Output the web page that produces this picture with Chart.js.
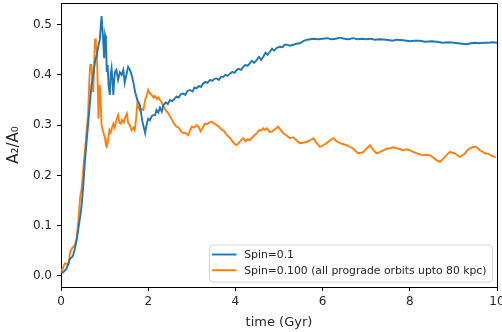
<!DOCTYPE html>
<html>
<head>
<meta charset="utf-8">
<script src="https://cdn.jsdelivr.net/npm/chart.js@4"></script>
<style>
  html, body { margin: 0; padding: 0; background: #fff; }
  #wrap { width: 502px; height: 332px; position: relative; }
</style>
</head>
<body>
<div id="wrap"><canvas id="barChart"></canvas></div>
<script>
'use strict';

// time (Gyr) and A2/A0
const blueTime = [0.00,0.05,0.10,0.13,0.17,0.21,0.25,0.28,0.32,0.36,0.40,0.44,0.47,0.51,0.55,0.58,0.62,0.66,0.70,0.74,0.78,0.82,0.86,0.89,0.93,0.96,0.99,1.01,1.03,1.05,1.07,1.09,1.12,1.14,1.16,1.18,1.20,1.22,1.24,1.27,1.31,1.35,1.39,1.43,1.46,1.50,1.54,1.58,1.62,1.66,1.70,1.75,1.81,1.86,1.90,1.93,1.96,2.00,2.04,2.08,2.12,2.16,2.19,2.23,2.27,2.31,2.35,2.40,2.45,2.50,2.55,2.60,2.65,2.70,2.75,2.80,2.85,2.90,2.96,3.02,3.06,3.11,3.16,3.21,3.26,3.31,3.36,3.42,3.47,3.52,3.57,3.62,3.67,3.72,3.77,3.82,3.88,3.93,3.98,4.03,4.08,4.13,4.18,4.23,4.28,4.33,4.38,4.43,4.49,4.54,4.59,4.64,4.69,4.74,4.79,4.84,4.89,4.95,5.02,5.08,5.13,5.18,5.25,5.33,5.40,5.48,5.56,5.64,5.72,5.79,5.90,6.00,6.10,6.20,6.30,6.40,6.50,6.60,6.70,6.80,6.90,7.00,7.09,7.20,7.30,7.47,7.60,7.70,7.85,8.00,8.10,8.23,8.35,8.50,8.62,8.75,8.90,9.00,9.10,9.20,9.31,9.40,9.50,9.60,9.70,9.80,9.90,10.0];
const blueA2 = [0.008,0.007,0.012,0.015,0.025,0.035,0.037,0.042,0.055,0.072,0.095,0.118,0.138,0.178,0.230,0.260,0.300,0.340,0.380,0.400,0.426,0.440,0.459,0.470,0.517,0.480,0.433,0.479,0.470,0.406,0.420,0.380,0.360,0.400,0.413,0.390,0.360,0.390,0.406,0.410,0.390,0.405,0.400,0.410,0.384,0.400,0.416,0.410,0.400,0.385,0.366,0.350,0.340,0.310,0.295,0.284,0.300,0.313,0.310,0.318,0.320,0.320,0.330,0.325,0.335,0.327,0.340,0.345,0.342,0.350,0.348,0.352,0.357,0.355,0.362,0.363,0.360,0.368,0.370,0.367,0.375,0.373,0.378,0.376,0.383,0.386,0.384,0.390,0.388,0.392,0.393,0.390,0.396,0.396,0.400,0.398,0.403,0.406,0.404,0.410,0.412,0.410,0.416,0.420,0.418,0.423,0.428,0.424,0.430,0.436,0.430,0.436,0.444,0.440,0.446,0.452,0.448,0.454,0.456,0.455,0.460,0.460,0.458,0.460,0.462,0.463,0.467,0.470,0.471,0.472,0.471,0.472,0.473,0.471,0.472,0.474,0.472,0.471,0.473,0.471,0.472,0.471,0.472,0.470,0.471,0.470,0.468,0.470,0.469,0.467,0.468,0.468,0.466,0.467,0.466,0.464,0.465,0.464,0.463,0.462,0.461,0.463,0.464,0.463,0.464,0.464,0.465,0.464];

const orangeTime = [0.00,0.03,0.06,0.09,0.13,0.17,0.21,0.25,0.28,0.32,0.36,0.40,0.44,0.47,0.51,0.55,0.59,0.62,0.65,0.67,0.70,0.72,0.74,0.76,0.78,0.80,0.82,0.84,0.86,0.89,0.91,0.93,0.96,0.99,1.01,1.03,1.05,1.08,1.11,1.14,1.17,1.20,1.23,1.27,1.31,1.34,1.37,1.40,1.44,1.47,1.51,1.54,1.58,1.62,1.66,1.69,1.72,1.75,1.78,1.81,1.85,1.89,1.93,1.97,2.00,2.04,2.08,2.12,2.16,2.20,2.24,2.27,2.31,2.35,2.40,2.45,2.50,2.55,2.60,2.65,2.70,2.75,2.80,2.85,2.92,2.96,3.00,3.05,3.11,3.15,3.20,3.25,3.30,3.35,3.40,3.46,3.52,3.57,3.62,3.67,3.72,3.78,3.83,3.88,3.93,3.98,4.03,4.08,4.13,4.18,4.23,4.28,4.33,4.38,4.44,4.49,4.54,4.59,4.64,4.68,4.72,4.78,4.83,4.90,4.98,5.04,5.10,5.17,5.25,5.33,5.40,5.48,5.56,5.64,5.72,5.79,5.86,5.94,6.01,6.09,6.17,6.25,6.32,6.40,6.48,6.55,6.62,6.70,6.76,6.82,6.88,6.93,6.99,7.05,7.09,7.15,7.20,7.24,7.32,7.39,7.47,7.55,7.62,7.70,7.78,7.85,7.92,8.00,8.08,8.16,8.24,8.31,8.38,8.46,8.54,8.62,8.69,8.75,8.81,8.87,8.92,8.98,9.03,9.09,9.15,9.21,9.27,9.32,9.38,9.44,9.50,9.56,9.61,9.67,9.72,9.80,9.86,9.92,9.97];
const orangeA2 = [0.012,0.012,0.020,0.025,0.024,0.022,0.048,0.055,0.058,0.062,0.075,0.111,0.158,0.171,0.211,0.250,0.290,0.320,0.390,0.420,0.420,0.390,0.366,0.420,0.472,0.460,0.450,0.390,0.313,0.380,0.350,0.300,0.290,0.280,0.274,0.260,0.257,0.270,0.290,0.285,0.295,0.303,0.295,0.310,0.320,0.305,0.303,0.310,0.305,0.315,0.323,0.305,0.300,0.290,0.295,0.290,0.310,0.343,0.335,0.330,0.332,0.330,0.350,0.360,0.370,0.363,0.360,0.355,0.358,0.352,0.355,0.350,0.345,0.337,0.330,0.325,0.317,0.310,0.302,0.297,0.295,0.288,0.284,0.285,0.280,0.290,0.297,0.295,0.300,0.297,0.288,0.295,0.303,0.302,0.305,0.307,0.303,0.300,0.297,0.292,0.290,0.283,0.278,0.274,0.268,0.263,0.260,0.265,0.270,0.274,0.268,0.272,0.270,0.275,0.280,0.284,0.290,0.289,0.294,0.290,0.294,0.287,0.287,0.292,0.297,0.290,0.284,0.280,0.274,0.276,0.270,0.264,0.265,0.267,0.270,0.274,0.265,0.257,0.260,0.264,0.270,0.274,0.268,0.264,0.262,0.260,0.257,0.254,0.248,0.244,0.245,0.246,0.252,0.257,0.260,0.252,0.247,0.244,0.247,0.250,0.253,0.254,0.256,0.254,0.252,0.250,0.252,0.250,0.247,0.244,0.242,0.240,0.241,0.240,0.235,0.230,0.227,0.232,0.237,0.243,0.247,0.245,0.244,0.240,0.237,0.240,0.244,0.250,0.254,0.256,0.257,0.254,0.250,0.247,0.244,0.243,0.240,0.238,0.236];

const seriesLabels = ['Spin=0.1', 'Spin=0.100 (all prograde orbits upto 80 kpc)'];
const xTicks = [0, 2, 4, 6, 8, 10];
const yTicks = [0.0, 0.1, 0.2, 0.3, 0.4, 0.5];

const FONT = 'DejaVu Sans';

function points(xs, ys) {
    return xs.map((x, i) => ({x: x, y: ys[i]}));
}

// top and right spines like matplotlib
const frame = {
    id: 'frame',
    afterDatasetsDraw(chart) {
        const {ctx, chartArea: a} = chart;
        ctx.save();
        ctx.strokeStyle = '#000';
        ctx.lineWidth = 1;
        ctx.beginPath();
        ctx.moveTo(a.left, a.top + 0.5);
        ctx.lineTo(a.right + 0.5, a.top + 0.5);
        ctx.lineTo(a.right + 0.5, a.bottom);
        ctx.stroke();
        ctx.restore();
    }
};

// legend box in the lower right corner
const boxLegend = {
    id: 'boxLegend',
    afterDatasetsDraw(chart) {
        const {ctx, chartArea: a} = chart;
        ctx.save();
        ctx.font = '10.8px ' + FONT;
        let textW = 0;
        chart.data.datasets.forEach(ds => { textW = Math.max(textW, ctx.measureText(ds.label).width); });
        const right = a.right - 4.5;
        const bottom = a.bottom - 5;
        const h = 37;
        const w = 34.7 + textW + 6;
        const left = right - w;
        const top = bottom - h;
        ctx.beginPath();
        ctx.roundRect(left, top, w, h, 3);
        ctx.fillStyle = 'rgba(255,255,255,0.8)';
        ctx.fill();
        ctx.strokeStyle = '#d6d6d6';
        ctx.lineWidth = 1;
        ctx.stroke();
        chart.data.datasets.forEach((ds, i) => {
            const y = top + 9.5 + i * 15.7;
            ctx.strokeStyle = ds.borderColor;
            ctx.lineWidth = 1.9;
            ctx.beginPath();
            ctx.moveTo(left + 2.5, y);
            ctx.lineTo(left + 27, y);
            ctx.stroke();
            ctx.fillStyle = '#262626';
            ctx.textBaseline = 'middle';
            ctx.fillText(ds.label, left + 34.7, y + 0.5);
        });
        ctx.restore();
    }
};

new Chart('barChart', {
    type: 'line',
    data: {
        datasets: [{
            label: seriesLabels[0],
            data: points(blueTime, blueA2),
            borderColor: '#1f77b4',
            borderWidth: 1.9,
            pointRadius: 0,
            tension: 0,
            fill: false
        }, {
            label: seriesLabels[1],
            data: points(orangeTime, orangeA2),
            borderColor: '#ff7f0e',
            borderWidth: 1.9,
            pointRadius: 0,
            tension: 0,
            fill: false
        }]
    },
    options: {
        responsive: true,
        maintainAspectRatio: false,
        animation: false,
        layout: { padding: { left: 0, top: 3, right: 5, bottom: 0 } },
        plugins: {
            legend: { display: false },
            tooltip: { enabled: false }
        },
        scales: {
            x: {
                type: 'linear',
                min: 0,
                max: 10,
                afterBuildTicks: s => { s.ticks = xTicks.map(v => ({value: v})); },
                afterFit: s => { s.height = 45; s.paddingLeft = 0; s.paddingRight = 0; },
                grid: { drawOnChartArea: false, drawTicks: true, tickLength: 4, tickColor: '#000', tickWidth: 1 },
                border: { display: true, color: '#000', width: 1 },
                ticks: {
                    color: '#262626',
                    font: { family: FONT, size: 12 },
                    padding: 4,
                    maxRotation: 0,
                    callback: v => String(v)
                },
                title: {
                    display: true,
                    text: 'time (Gyr)',
                    color: '#262626',
                    font: { family: FONT, size: 13 },
                    padding: { top: 0, bottom: 2 }
                }
            },
            y: {
                type: 'linear',
                min: -0.022,
                max: 0.543,
                afterBuildTicks: s => { s.ticks = yTicks.map(v => ({value: v})); },
                afterFit: s => { s.width = 61; s.paddingTop = 0; s.paddingBottom = 0; },
                grid: { drawOnChartArea: false, drawTicks: true, tickLength: 4, tickColor: '#000', tickWidth: 1 },
                border: { display: true, color: '#000', width: 1 },
                ticks: {
                    color: '#262626',
                    font: { family: FONT, size: 12 },
                    padding: 5,
                    callback: v => v.toFixed(1)
                },
                title: {
                    display: true,
                    text: 'A₂/A₀',
                    color: '#262626',
                    font: { family: FONT, size: 15 },
                    padding: { top: 5, bottom: 0 }
                }
            }
        }
    },
    plugins: [frame, boxLegend]
});
</script>
</body>
</html>
